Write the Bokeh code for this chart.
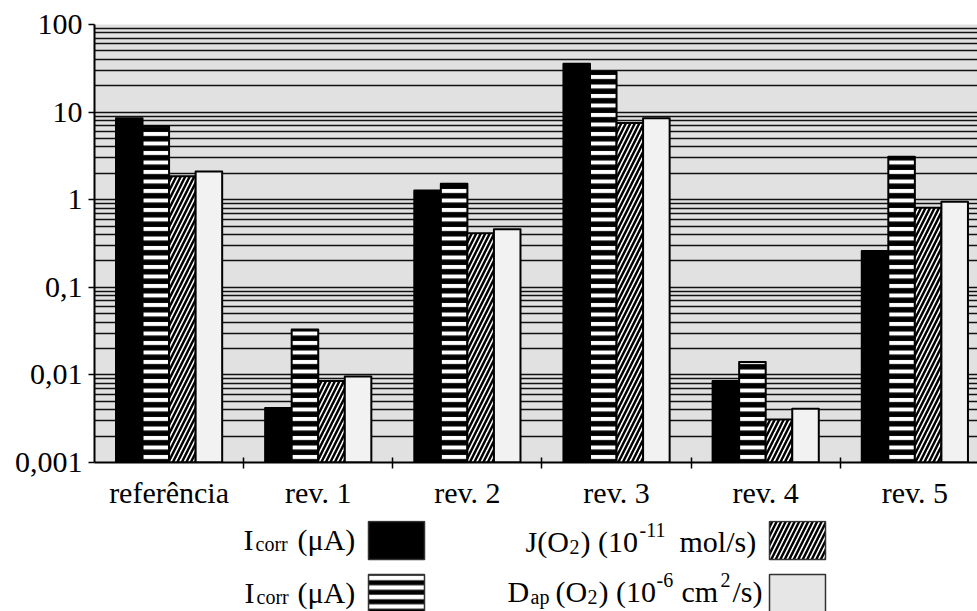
from bokeh.plotting import figure
from bokeh.models import Range1d, LinearAxis, FixedTicker, ColumnDataSource
from bokeh.layouts import column
from bokeh.transform import dodge
from bokeh.embed import file_html
from bokeh.resources import INLINE
from bokeh.core.properties import value

# ---------------- data ----------------
categories = ["referência", "rev. 1", "rev. 2", "rev. 3", "rev. 4", "rev. 5"]
icorr_solid = [8.5, 0.0042, 1.27, 35.6, 0.0085, 0.26]
icorr_striped = [6.9, 0.033, 1.52, 28.6, 0.014, 3.1]
j_o2 = [1.85, 0.0085, 0.415, 7.5, 0.0031, 0.81]
d_ap_o2 = [2.1, 0.0096, 0.46, 8.5, 0.0041, 0.95]
y_ticks = [0.001, 0.01, 0.1, 1, 10, 100]
y_tick_labels = ["0,001", "0,01", "0,1", "1", "10", "100"]

FONT = "Liberation Serif"
FS = "30px"
FS_SMALL = "20px"

centers = [i + 0.5 for i in range(len(categories))]
boundaries = list(range(1, len(categories)))

src = ColumnDataSource(dict(xc=centers, a=icorr_solid, b=icorr_striped,
                            j=j_o2, d=d_ap_o2))

p = figure(width=977, height=520, y_axis_type="log", x_axis_type=None,
           x_range=Range1d(0, 5.92), y_range=Range1d(0.001, 100),
           output_backend="svg", toolbar_location=None,
           min_border_left=94, min_border_right=0, min_border_top=24,
           min_border_bottom=58)
p.background_fill_color = "#e1e1e1"
p.border_fill_color = "white"
p.outline_line_color = None

# grid lines at every decade subdivision
grid_ticks = [m * 10.0 ** k for k in range(-3, 2) for m in range(1, 10)] + [100]
p.ygrid.ticker = FixedTicker(ticks=grid_ticks)
p.ygrid.grid_line_color = "#111111"
p.ygrid.grid_line_width = 1.5

ya = p.yaxis[0]
ya.ticker = FixedTicker(ticks=y_ticks)
ya.major_label_overrides = {t: l for t, l in zip(y_ticks, y_tick_labels)}
ya.axis_line_width = 2
ya.axis_line_color = "black"
ya.major_tick_out = 6
ya.major_tick_in = 0
ya.major_tick_line_width = 1.5
ya.minor_tick_out = 0
ya.minor_tick_in = 0
ya.major_label_standoff = 6
ya.major_label_text_font = FONT
ya.major_label_text_font_size = FS
ya.major_label_text_color = "black"

xa = LinearAxis(ticker=FixedTicker(ticks=centers, minor_ticks=boundaries),
                major_label_overrides={c: n for c, n in zip(centers, categories)},
                axis_line_width=2, axis_line_color="black",
                major_tick_line_color=None, major_tick_in=0, major_tick_out=0,
                minor_tick_line_color="black", minor_tick_line_width=1.5,
                minor_tick_in=5, minor_tick_out=6,
                major_label_standoff=7,
                major_label_text_font=FONT,
                major_label_text_font_size=FS,
                major_label_text_color="black")
p.add_layout(xa, "below")

BW = 0.178
common = dict(width=BW, bottom=0.001, line_color="black", line_width=2,
              line_join="round", source=src)
p.vbar(x=dodge("xc", -1.5 * BW, range=p.x_range), top="a",
       fill_color="black", **common)
p.vbar(x=dodge("xc", -0.5 * BW, range=p.x_range), top="b",
       fill_color="white", hatch_pattern="horizontal_line",
       hatch_color="black", hatch_weight=5.5, hatch_scale=9.5, **common)
p.vbar(x=dodge("xc", 0.5 * BW, range=p.x_range), top="j",
       fill_color="white", hatch_pattern="right_diagonal_line",
       hatch_color="black", hatch_weight=2.5, hatch_scale=9, **common)
p.vbar(x=dodge("xc", 1.5 * BW, range=p.x_range), top="d",
       fill_color="#f2f2f2", **common)

# ---------------- legend (page-pixel coordinates) ----------------
lg = figure(width=977, height=91, x_axis_type=None, y_axis_type=None,
            x_range=Range1d(94, 977), y_range=Range1d(611, 520),
            output_backend="svg", toolbar_location=None,
            min_border_left=94, min_border_right=0, min_border_top=0,
            min_border_bottom=0)
lg.outline_line_color = None
lg.xgrid.visible = False
lg.ygrid.visible = False
lg.background_fill_color = "white"
lg.border_fill_color = "white"

sw = dict(line_color="#333333", line_width=1.5)
lg.quad(left=[368], right=[424], top=[521], bottom=[559], fill_color="black", **sw)
lg.quad(left=[368], right=[424], top=[574], bottom=[612], fill_color="white",
        hatch_pattern="horizontal_line", hatch_color="black", hatch_weight=5,
        hatch_scale=9.5, **sw)
lg.quad(left=[769], right=[825], top=[521], bottom=[559], fill_color="white",
        hatch_pattern="right_diagonal_line", hatch_color="black", hatch_weight=2.5,
        hatch_scale=9, **sw)
lg.quad(left=[769], right=[825], top=[574], bottom=[612], fill_color="#e6e6e6", **sw)

big = dict(text_font=value(FONT), text_font_size=FS, text_baseline="alphabetic",
           text_align="left", text_color="black")
small = dict(text_font=value(FONT), text_font_size=FS_SMALL, text_baseline="alphabetic",
             text_align="left", text_color="black")

lg.text(x=[243, 297, 244, 297, 525, 580, 679, 507, 555, 598, 681, 732],
        y=[539, 539, 592, 592, 541, 541, 541, 591, 591, 591, 591, 591],
        text=["I", "(μA)", "I", "(μA)", "J(O", ") (10", "mol/s)",
              "D", "(O", ") (10", "cm", "/s)"], **big)
lg.text(x=[255, 256, 569, 639, 530, 587, 656, 720],
        y=[543, 596, 546, 529, 596, 596, 579, 579],
        text=["corr", "corr", "2", "-11", "ap", "2", "-6", "2"], **small)

layout = column(p, lg, spacing=0)
open("out.html", "w").write(file_html(layout, INLINE))
